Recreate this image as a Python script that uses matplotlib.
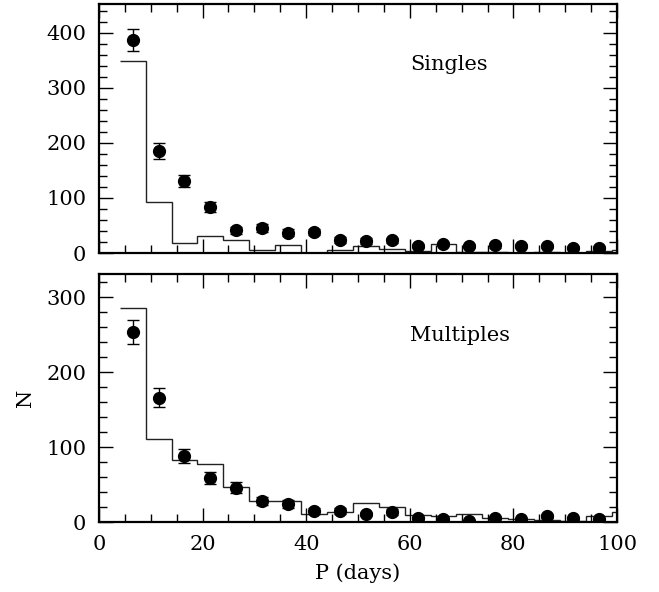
import matplotlib
matplotlib.use("Agg")
from matplotlib import pyplot as plt
from matplotlib.ticker import MultipleLocator

# bin edges of the model histograms (days)
edges = [4, 9, 14, 19, 24, 29, 34, 39, 44, 49, 54, 59, 64, 69, 74, 79, 84, 89, 94, 99, 104]

# model histograms
singles_hist = [349, 93, 19, 30, 24, 5, 14, 0, 5, 13, 8, 4, 16, 1, 1, 0, 2, 0, 4, 6]
multiples_hist = [286, 111, 83, 77, 47, 28, 28, 11, 13, 26, 20, 9, 8, 11, 6, 4, 3, 2, 8, 14]

# observed counts with errors
period = [6.5, 11.5, 16.5, 21.5, 26.5, 31.5, 36.5, 41.5, 46.5, 51.5,
          56.5, 61.5, 66.5, 71.5, 76.5, 81.5, 86.5, 91.5, 96.5]
singles_n = [387, 185, 131, 83, 41, 45, 37, 38, 24, 22, 23, 13, 16, 13, 14, 13, 13, 10, 9]
singles_err = [20, 14, 11, 9, 6, 7, 6, 6, 5, 5, 5, 4, 4, 4, 4, 4, 4, 3, 3]
multiples_n = [254, 166, 88, 59, 46, 28, 24, 15, 15, 11, 13, 5, 4, 1, 6, 4, 8, 5, 4]
multiples_err = [16, 13, 9, 8, 7, 5, 5, 4, 4, 3, 4, 2, 2, 1, 2, 2, 3, 2, 2]

plt.rcParams["font.family"] = ["DejaVu Serif"]
plt.rcParams["font.size"] = 15

fig = plt.figure(figsize=(6.59, 5.92), dpi=100)
ax1 = fig.add_axes([0.1502, 0.5726, 0.7861, 0.4206])
ax2 = fig.add_axes([0.1502, 0.1182, 0.7861, 0.4189])


def panel(ax, hist, n, err, ymax, label, ly):
    ax.stairs(hist, edges, baseline=None, color="#222222", lw=1.0)
    ax.errorbar(period, n, yerr=err, fmt="o", color="black", ms=8.5,
                capsize=4.5, elinewidth=1.0, capthick=1.0)
    ax.set_xlim(0, 100)
    ax.set_ylim(0, ymax)
    ax.xaxis.set_major_locator(MultipleLocator(20))
    ax.xaxis.set_minor_locator(MultipleLocator(5))
    ax.yaxis.set_major_locator(MultipleLocator(100))
    ax.yaxis.set_minor_locator(MultipleLocator(20))
    ax.tick_params(which="both", direction="in", top=True, right=True, width=1.0)
    ax.tick_params(which="major", length=10, pad=9)
    ax.tick_params(which="minor", length=5.5)
    for s in ax.spines.values():
        s.set_linewidth(1.6)
    ax.text(60, ly, label, va="center", ha="left", fontsize=15)


panel(ax1, singles_hist, singles_n, singles_err, 452, "Singles", 343)
panel(ax2, multiples_hist, multiples_n, multiples_err, 331, "Multiples", 249)

ax1.tick_params(labelbottom=False)
ax2.set_xlabel("P (days)", labelpad=7)
ax2.set_ylabel("N", labelpad=8)

fig.savefig("out.png", dpi=100)
